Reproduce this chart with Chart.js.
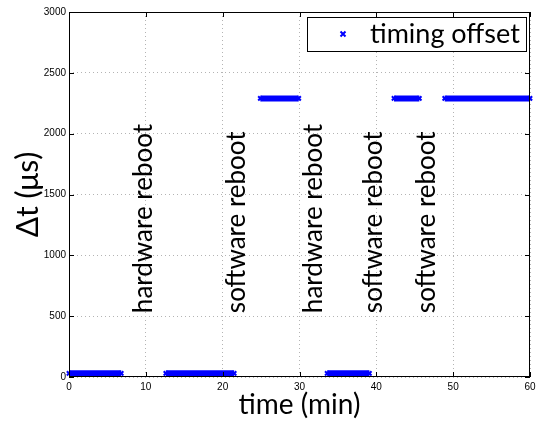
<!DOCTYPE html>
<html>
<head>
<meta charset="utf-8">
<script src="https://cdn.jsdelivr.net/npm/chart.js@4/dist/chart.umd.min.js"></script>
<style>
  html, body { margin: 0; padding: 0; background: #fff; }
  #wrap { width: 536px; height: 424px; }
</style>
</head>
<body>
<div id="wrap"><canvas id="chart"></canvas></div>
<script>
// segments of constant offset (minutes / microseconds)
const segStart = [0, 12.6, 24.9, 33.6, 42.3, 48.9];
const segEnd = [6.8, 21.5, 29.9, 39.1, 45.6, 60];
const segValue = [30, 30, 2290, 30, 2290, 2290];

const xTicks = [0, 10, 20, 30, 40, 50, 60];
const yTicks = [0, 500, 1000, 1500, 2000, 2500, 3000];

// reboot notes
const noteText = ['hardware reboot', 'software reboot', 'hardware reboot', 'software reboot', 'software reboot'];
const noteX = [10.85, 22.9, 32.9, 40.7, 47.7];
const noteY = 525;

const BIG = 'Lato, "DejaVu Sans", sans-serif';
const SMALL = '"Liberation Sans", Arial, sans-serif';

// start/end of each segment, broken by nulls
const points = [];
segStart.forEach((s, i) => {
  points.push({x: s, y: segValue[i]});
  points.push({x: segEnd[i], y: segValue[i]});
  points.push({x: segEnd[i], y: null});
});

const extras = {
  id: 'extras',
  afterDatasetsDraw(chart) {
    const {ctx, chartArea: a, scales: {x, y}} = chart;
    ctx.save();

    // notes
    ctx.fillStyle = '#000';
    ctx.font = '26px ' + BIG;
    ctx.textAlign = 'left';
    ctx.textBaseline = 'alphabetic';
    noteText.forEach((t, i) => {
      ctx.save();
      ctx.translate(x.getPixelForValue(noteX[i]), y.getPixelForValue(noteY));
      ctx.rotate(-Math.PI / 2);
      ctx.fillText(t, 0, 0);
      ctx.restore();
    });

    // frame + inward ticks
    ctx.strokeStyle = '#000';
    ctx.lineWidth = 1;
    ctx.setLineDash([]);
    ctx.strokeRect(a.left + 0.5, a.top + 0.5, a.width - 1, a.height - 1);
    ctx.beginPath();
    xTicks.forEach(v => {
      const px = Math.round(x.getPixelForValue(v)) + 0.5;
      ctx.moveTo(px, a.bottom); ctx.lineTo(px, a.bottom - 5);
      ctx.moveTo(px, a.top); ctx.lineTo(px, a.top + 5);
    });
    yTicks.forEach(v => {
      const py = Math.round(y.getPixelForValue(v)) + 0.5;
      ctx.moveTo(a.left, py); ctx.lineTo(a.left + 5, py);
      ctx.moveTo(a.right, py); ctx.lineTo(a.right - 5, py);
    });
    ctx.stroke();

    // legend
    const lw = 219, lh = 34;
    const lx = a.right - 4 - lw, ly = a.top + 5;
    ctx.fillStyle = '#fff';
    ctx.fillRect(lx, ly, lw, lh);
    ctx.strokeRect(lx + 0.5, ly + 0.5, lw, lh);
    const mx = lx + 36, my = ly + lh / 2;
    ctx.strokeStyle = '#0000ff';
    ctx.lineWidth = 2;
    ctx.beginPath();
    ctx.moveTo(mx - 2.5, my - 2.5); ctx.lineTo(mx + 2.5, my + 2.5);
    ctx.moveTo(mx - 2.5, my + 2.5); ctx.lineTo(mx + 2.5, my - 2.5);
    ctx.stroke();
    ctx.fillStyle = '#000';
    ctx.font = '27px ' + BIG;
    ctx.textBaseline = 'middle';
    ctx.fillText(chart.data.datasets[0].label, lx + 63, my);
    ctx.restore();
  }
};

new Chart(document.getElementById('chart'), {
  type: 'line',
  data: {
    datasets: [{
      label: 'timing offset',
      data: points,
      borderColor: '#0000ff',
      backgroundColor: '#0000ff',
      borderWidth: 6,
      pointStyle: 'crossRot',
      pointRadius: 3,
      pointBorderWidth: 2,
      spanGaps: false,
      clip: false
    }]
  },
  options: {
    responsive: true,
    maintainAspectRatio: false,
    animation: false,
    events: [],
    layout: { padding: { top: 12, right: 0, left: 0, bottom: 0 } },
    plugins: { legend: { display: false }, tooltip: { enabled: false } },
    scales: {
      x: {
        type: 'linear',
        min: 0,
        max: 60,
        afterBuildTicks: s => { s.ticks = xTicks.map(v => ({value: v})); },
        afterFit: s => { s.height = 47; s.paddingRight = 4; },
        grid: { color: '#b4b4b4', drawTicks: false },
        border: { display: false, dash: [1, 3] },
        ticks: { font: { family: SMALL, size: 10 }, color: '#000', padding: 4, maxRotation: 0, callback: v => String(v) },
        title: { display: true, text: 'time (min)', font: { family: BIG, size: 28 }, color: '#000', padding: { top: 0, bottom: 2 } }
      },
      y: {
        type: 'linear',
        min: 0,
        max: 3000,
        afterBuildTicks: s => { s.ticks = yTicks.map(v => ({value: v})); },
        afterFit: s => { s.width = 69; },
        grid: { color: '#b4b4b4', drawTicks: false },
        border: { display: false, dash: [1, 3] },
        ticks: { font: { family: SMALL, size: 10 }, color: '#000', padding: 3, callback: v => String(v) },
        title: { display: true, text: 'Δt (μs)', font: { family: BIG, size: 30 }, color: '#000', padding: { top: 10, bottom: 0 } }
      }
    }
  },
  plugins: [extras]
});
</script>
</body>
</html>
